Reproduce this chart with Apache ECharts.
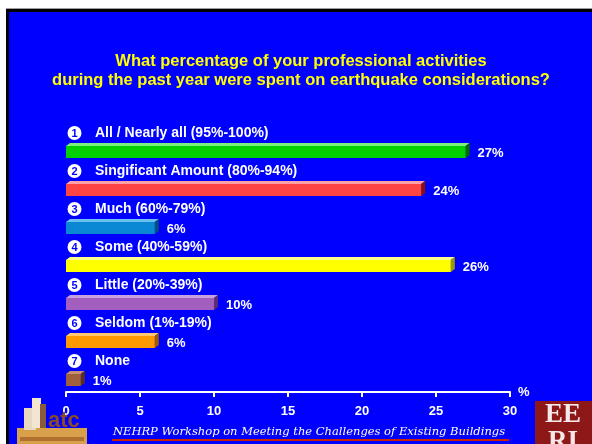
<!DOCTYPE html>
<html><head><meta charset="utf-8">
<script src="https://cdn.jsdelivr.net/npm/echarts@6/dist/echarts.min.js"></script>
<style>html,body{margin:0;padding:0;background:#fff}#c{width:592px;height:444px}</style>
</head><body><div id="c"></div>
<script>
const categories = ['All / Nearly all (95%-100%)','Singificant Amount (80%-94%)','Much (60%-79%)','Some (40%-59%)','Little (20%-39%)','Seldom (1%-19%)','None'];
const markerNumbers = ['1','2','3','4','5','6','7'];
const values = [27, 24, 6, 26, 10, 6, 1];
const frontColors = ['#00D000','#FF4444','#0A88D4','#FFFF00','#A35FBF','#FF9900','#A0603C'];
const topColors   = ['#7CF07C','#FFA0A8','#6CC0F0','#FFFF90','#C8A0E0','#FFC870','#C89070'];
const sideColors  = ['#006A00','#8A1010','#05507A','#9A9A00','#5A2E72','#A05A00','#5A3018'];
const titleLines = ['What percentage of your professional activities','during the past year were spent on earthquake considerations?'];
const footerText = 'NEHRP Workshop on Meeting the Challenges of Existing Buildings';

const chart = echarts.init(document.getElementById('c'), null, {renderer:'canvas'});
const F = 'Liberation Sans, Arial, sans-serif';

function renderItem(params, api) {
  const idx = api.value(1);
  const p0 = api.coord([0, idx]);
  const p1 = api.coord([api.value(0), idx]);
  const x0 = p0[0], x1 = p1[0], cy = p0[1];
  const top = cy + 1, h = 12, dx = 4, dy = 3;
  return {
    type: 'group',
    children: [
      {type:'polygon', shape:{points:[[x0,top],[x0+dx,top-dy],[x1+dx,top-dy],[x1,top]]}, style:{fill: topColors[idx]}},
      {type:'polygon', shape:{points:[[x1,top],[x1+dx,top-dy],[x1+dx,top+h-dy],[x1,top+h]]}, style:{fill: sideColors[idx]}},
      {type:'rect', shape:{x:x0, y:top, width:x1-x0, height:h}, style:{fill: frontColors[idx]}},
      {type:'circle', shape:{cx:x0+8.5, cy:cy-12, r:7}, style:{fill:'#fff'}},
      {type:'text', style:{x:x0+8.5, y:cy-11.5, text: markerNumbers[idx], fill:'#0000FF', font:'bold 11px '+F, align:'center', verticalAlign:'middle'}},
      {type:'text', style:{x:x0+29, y:cy-12, text: categories[idx], fill:'#fff', font:'bold 14px '+F, align:'left', verticalAlign:'middle'}},
      {type:'text', style:{x:x1+12, y:cy+8, text: api.value(0)+'%', fill:'#fff', font:'bold 13px '+F, align:'left', verticalAlign:'middle'}}
    ]
  };
}

chart.setOption({
  animation:false,
  backgroundColor:'#fff',
  title:{
    text: titleLines.join('\n'),
    left: 296, top: 47, textAlign:'center',
    textStyle:{color:'#FFFF00', fontSize:16.5, fontWeight:'bold', fontFamily:F, lineHeight:19}
  },
  grid:{left:66, right:82, top:126, bottom:52},
  xAxis:{
    type:'value', min:0, max:30, interval:5,
    splitLine:{show:false},
    axisLine:{show:true, lineStyle:{color:'#fff', width:2}},
    axisTick:{show:true, length:5, lineStyle:{color:'#fff', width:2}},
    axisLabel:{color:'#fff', fontSize:13, fontWeight:'bold', fontFamily:F, margin:13},
    name:'%', nameLocation:'end', nameGap:8,
    nameTextStyle:{color:'#fff', fontSize:13, fontWeight:'bold', fontFamily:F}
  },
  yAxis:{
    type:'category', data:categories, inverse:true,
    axisLine:{show:false}, axisTick:{show:false}, axisLabel:{show:false}, splitLine:{show:false}
  },
  graphic:[
    {type:'rect', z:-10, silent:true, shape:{x:6,y:8,width:586,height:1}, style:{fill:'#A0A0A0'}},
    {type:'rect', z:-10, silent:true, shape:{x:6,y:9,width:586,height:435}, style:{fill:'#000'}},
    {type:'rect', z:-9, silent:true, shape:{x:9,y:12,width:583,height:432}, style:{fill:'#0000FF'}},
    // footer
    {type:'text', z:5, style:{x:309, y:432, text:footerText, fill:'#fff', font:'italic 11.5px DejaVu Serif, serif', align:'center', verticalAlign:'middle'}},
    {type:'rect', z:5, shape:{x:112,y:439,width:397,height:2}, style:{fill:'#CC2200'}},
    // EERI logo
    {type:'rect', z:5, shape:{x:535,y:401,width:57,height:43}, style:{fill:'#8E1818'}},
    {type:'text', z:6, style:{x:563, y:415, text:'EE', fill:'#F4E8E8', font:'bold 27px Liberation Serif, serif', align:'center', verticalAlign:'middle'}},
    {type:'text', z:6, style:{x:563, y:442, text:'RI', fill:'#F4E8E8', font:'bold 27px Liberation Serif, serif', align:'center', verticalAlign:'middle'}},
    // ATC logo (approximation)
    {type:'rect', z:4, shape:{x:17,y:428,width:70,height:16}, style:{fill:'#D8A04A'}},
    {type:'rect', z:4, shape:{x:20,y:437,width:64,height:4}, style:{fill:'#B07030'}},
    {type:'rect', z:4, shape:{x:24,y:408,width:12,height:22}, style:{fill:'#E8D8C0'}},
    {type:'rect', z:4, shape:{x:32,y:398,width:9,height:30}, style:{fill:'#F2E6D2'}},
    {type:'rect', z:4, shape:{x:40,y:404,width:6,height:24}, style:{fill:'#8A5A3A'}},
    {type:'text', z:4, style:{x:48, y:421, text:'atc', fill:'#8B4A2A', font:'bold 22px Liberation Sans, sans-serif', align:'left', verticalAlign:'middle'}}
  ],
  series:[{
    type:'custom',
    renderItem: renderItem,
    encode:{x:0, y:1},
    data: values.map((v,i)=>[v,i]),
    z:3
  }]
});
</script></body></html>
